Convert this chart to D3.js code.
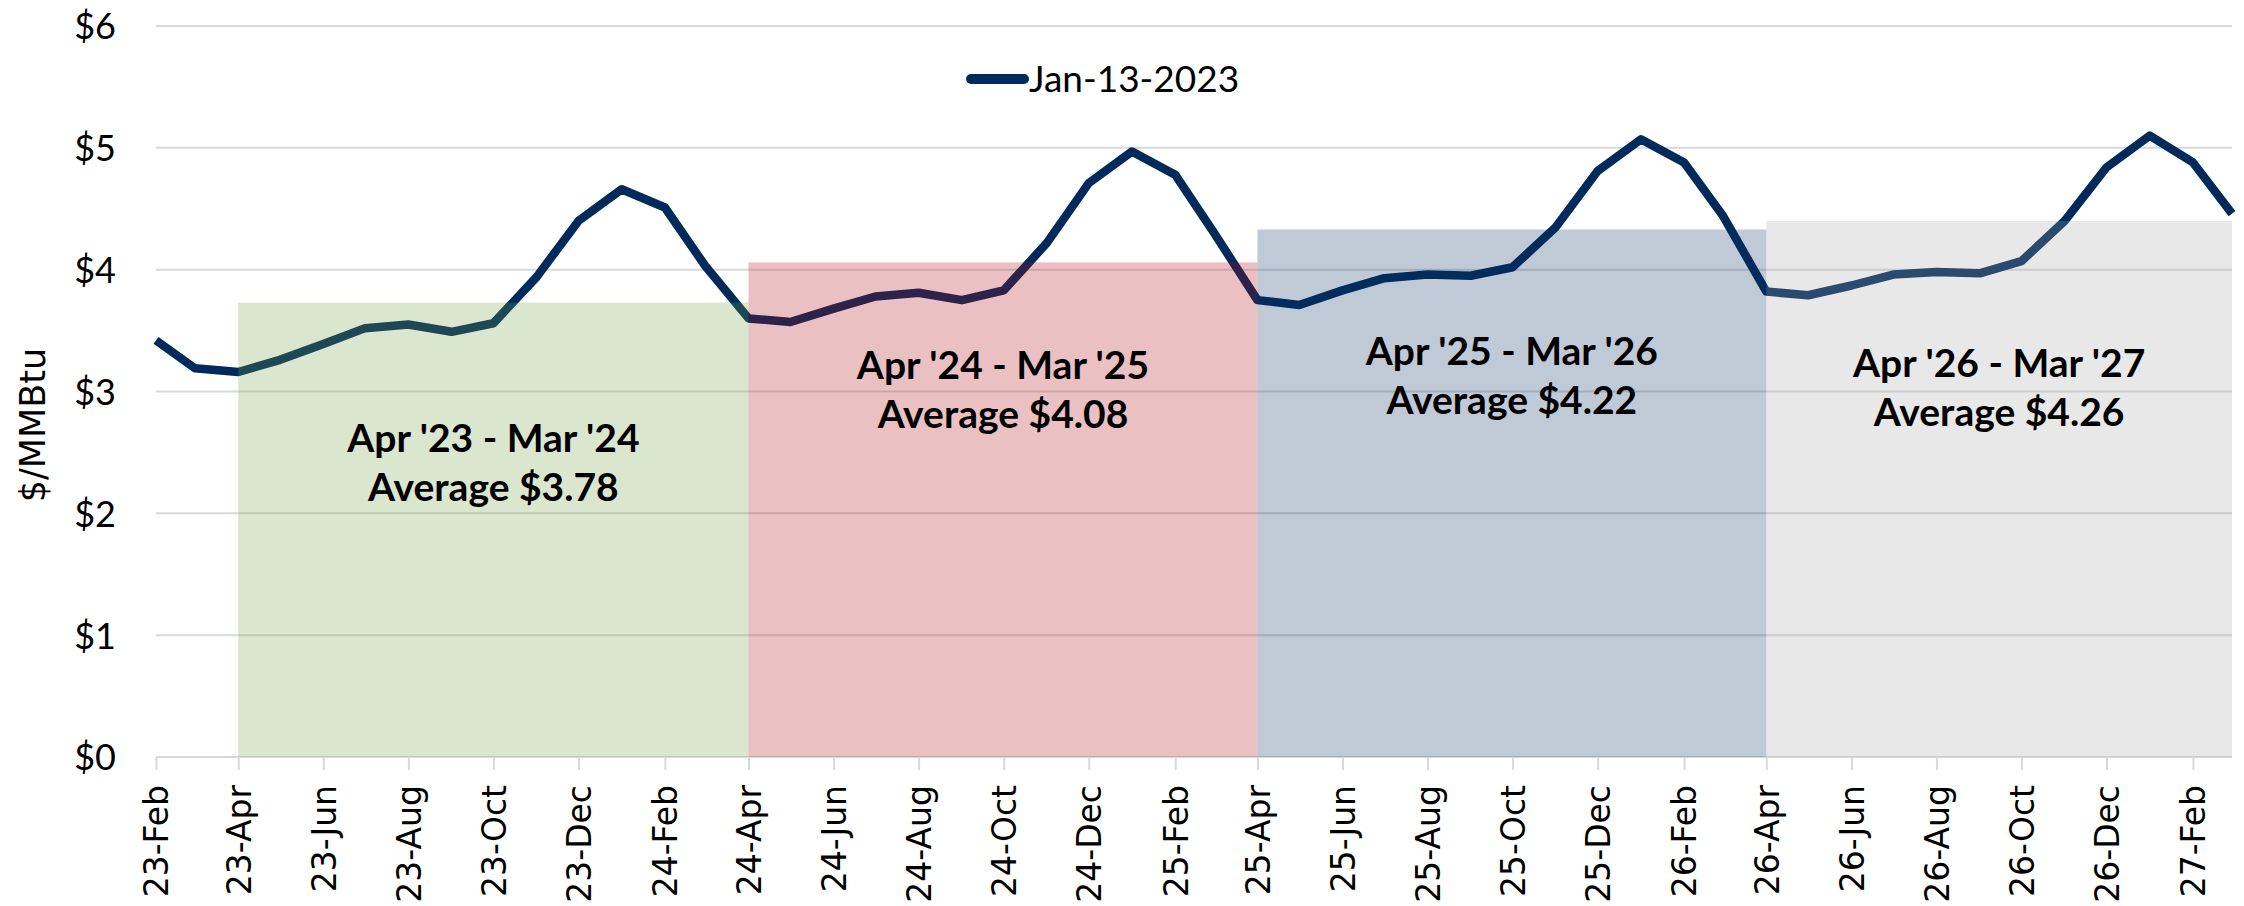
<!DOCTYPE html>
<html>
<head>
<meta charset="utf-8">
<script src="https://cdn.jsdelivr.net/npm/d3@7"></script>
<style>
  body { margin: 0; background: #fff; }
</style>
</head>
<body>
<div id="chart"></div>
<script>
// monthly strip, $/MMBtu
const months = [
  "2023-02", "2023-03", "2023-04", "2023-05", "2023-06", "2023-07", "2023-08", "2023-09", "2023-10", "2023-11", "2023-12",
  "2024-01", "2024-02", "2024-03", "2024-04", "2024-05", "2024-06", "2024-07", "2024-08", "2024-09", "2024-10", "2024-11", "2024-12",
  "2025-01", "2025-02", "2025-03", "2025-04", "2025-05", "2025-06", "2025-07", "2025-08", "2025-09", "2025-10", "2025-11", "2025-12",
  "2026-01", "2026-02", "2026-03", "2026-04", "2026-05", "2026-06", "2026-07", "2026-08", "2026-09", "2026-10", "2026-11", "2026-12",
  "2027-01", "2027-02", "2027-03"
];
const prices = [
  3.42, 3.19, 3.16, 3.26, 3.39, 3.52, 3.55, 3.49, 3.56, 3.94, 4.40,
  4.66, 4.51, 4.03, 3.60, 3.57, 3.68, 3.78, 3.81, 3.75, 3.83, 4.22, 4.71,
  4.97, 4.78, 4.30, 3.75, 3.71, 3.83, 3.93, 3.96, 3.95, 4.02, 4.35, 4.81,
  5.07, 4.88, 4.44, 3.82, 3.79, 3.87, 3.96, 3.98, 3.97, 4.07, 4.40, 4.84,
  5.10, 4.88, 4.46
];
const seriesName = "Jan-13-2023";

const tickLabels = [
  "23-Feb", "23-Apr", "23-Jun", "23-Aug", "23-Oct", "23-Dec",
  "24-Feb", "24-Apr", "24-Jun", "24-Aug", "24-Oct", "24-Dec",
  "25-Feb", "25-Apr", "25-Jun", "25-Aug", "25-Oct", "25-Dec",
  "26-Feb", "26-Apr", "26-Jun", "26-Aug", "26-Oct", "26-Dec",
  "27-Feb"
];
const yTicks = [0, 1, 2, 3, 4, 5, 6];

// contract-year shading
const bandNames = ["Apr '23 - Mar '24", "Apr '24 - Mar '25", "Apr '25 - Mar '26", "Apr '26 - Mar '27"];
const bandAverages = [3.78, 4.08, 4.22, 4.26];
const bandStarts = ["2023-04", "2024-04", "2025-04", "2026-04"];
const bandEnds = ["2024-04", "2025-04", "2026-04", "2027-03"];
const bandTops = [3.73, 4.06, 4.33, 4.40];

const parseMonth = d3.timeParse("%Y-%m");
const parseTick = d3.timeParse("%y-%b");

const data = months.map((m, i) => ({ date: parseMonth(m), value: prices[i] }));
const bands = bandNames.map((name, i) => ({
  name,
  avg: bandAverages[i],
  start: parseMonth(bandStarts[i]),
  end: parseMonth(bandEnds[i]),
  top: bandTops[i]
}));

const bandColors = ["#759f46", "#ae0c19", "#0d3365", "#a6a6a6"];
const labelAt = [2.5, 3.1, 3.22, 3.12]; // baseline of first label line, in $ units
const navy = "#012a5c";
const gridColor = "#d9d9d9";
const calibriLike = "Lato, 'Open Sans', sans-serif";

const margin = { top: 26, right: 12, bottom: 149, left: 156 };
const W = 2244, H = 906;
const width = W - margin.left - margin.right;
const height = H - margin.top - margin.bottom;

const svg = d3.select("#chart")
  .append("svg")
  .attr("width", W)
  .attr("height", H);

const g = svg.append("g")
  .attr("transform", `translate(${margin.left},${margin.top})`);

const x = d3.scaleTime()
  .domain([data[0].date, data[data.length - 1].date])
  .range([0, width]);

const y = d3.scaleLinear()
  .domain([0, 6])
  .range([height, 0]);

// gridlines
g.append("g")
  .selectAll("line")
  .data(yTicks)
  .join("line")
  .attr("x1", 0)
  .attr("x2", width)
  .attr("y1", d => y(d))
  .attr("y2", d => y(d))
  .attr("stroke", gridColor)
  .attr("stroke-width", 2);

// x axis
const xAxis = g.append("g")
  .attr("transform", `translate(0,${height})`)
  .call(d3.axisBottom(x)
    .tickValues(tickLabels.map(t => parseTick(t)))
    .tickSize(13)
    .tickFormat(d3.timeFormat("%y-%b")));

xAxis.select(".domain").remove();
xAxis.selectAll(".tick line")
  .attr("stroke", gridColor)
  .attr("stroke-width", 2);
xAxis.selectAll("text")
  .attr("transform", "rotate(-90)")
  .attr("x", -28)
  .attr("y", 0)
  .attr("dy", "0.36em")
  .style("text-anchor", "end")
  .style("font-family", "'DejaVu Sans', sans-serif")
  .style("font-size", "33px")
  .style("fill", "#000");

// y axis
const yAxis = g.append("g")
  .call(d3.axisLeft(y)
    .tickValues(yTicks)
    .tickSize(0)
    .tickPadding(40)
    .tickFormat(d => "$" + d));

yAxis.select(".domain").remove();
yAxis.selectAll("text")
  .attr("dy", "0.36em")
  .style("font-family", calibriLike)
  .style("font-size", "36px")
  .style("fill", "#000");

svg.append("text")
  .attr("transform", `translate(32,425) rotate(-90)`)
  .attr("text-anchor", "middle")
  .attr("dy", "0.36em")
  .style("font-family", "'DejaVu Sans', sans-serif")
  .style("font-size", "35px")
  .text("$/MMBtu");

// price line (drawn under the translucent bands)
const line = d3.line()
  .x(d => x(d.date))
  .y(d => y(d.value));

g.append("path")
  .datum(data)
  .attr("fill", "none")
  .attr("stroke", navy)
  .attr("stroke-width", 8.5)
  .attr("stroke-linejoin", "round")
  .attr("d", line);

// bands
g.selectAll(".band")
  .data(bands)
  .join("rect")
  .attr("class", "band")
  .attr("x", d => x(d.start))
  .attr("width", d => x(d.end) - x(d.start))
  .attr("y", d => y(d.top))
  .attr("height", d => y(0) - y(d.top))
  .attr("fill", (d, i) => bandColors[i])
  .attr("fill-opacity", 0.26);

// band labels
const labels = g.selectAll(".band-label")
  .data(bands)
  .join("text")
  .attr("class", "band-label")
  .attr("text-anchor", "middle")
  .style("font-family", calibriLike)
  .style("font-weight", "bold")
  .style("font-size", "39px")
  .style("fill", "#000");

labels.append("tspan")
  .attr("x", d => (x(d.start) + x(d.end)) / 2)
  .attr("y", (d, i) => y(labelAt[i]))
  .text(d => d.name);

labels.append("tspan")
  .attr("x", d => (x(d.start) + x(d.end)) / 2)
  .attr("y", (d, i) => y(labelAt[i]) + 49)
  .text(d => "Average $" + d3.format(".2f")(d.avg));

// legend
const legend = svg.append("g")
  .attr("transform", "translate(967,79)");

legend.append("line")
  .attr("x1", 4)
  .attr("x2", 57)
  .attr("stroke", navy)
  .attr("stroke-width", 10)
  .attr("stroke-linecap", "round");

legend.append("text")
  .attr("x", 62)
  .attr("y", 12.7)
  .style("font-family", calibriLike)
  .style("font-size", "37px")
  .style("fill", "#000")
  .text(seriesName);
</script>
</body>
</html>
